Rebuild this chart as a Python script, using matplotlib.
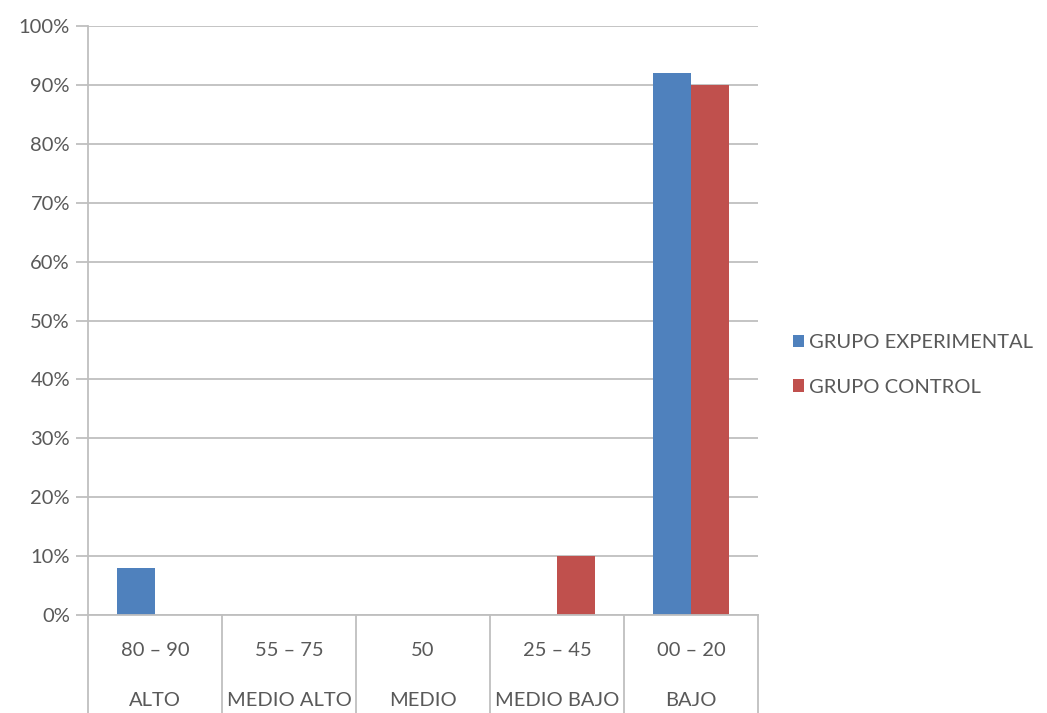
import matplotlib.pyplot as plt
import numpy as np
from matplotlib.patches import Patch
from matplotlib.ticker import FuncFormatter

plt.rcParams['font.family'] = ['Lato', 'DejaVu Sans']

rangos = ["80 – 90", "55 – 75", "50", "25 – 45", "00 – 20"]
niveles = ["ALTO", "MEDIO ALTO", "MEDIO", "MEDIO BAJO", "BAJO"]
experimental = [8, 0, 0, 0, 92]
control = [0, 0, 0, 10, 90]
series = ["GRUPO EXPERIMENTAL", "GRUPO CONTROL"]
colores = ["#4F81BD", "#C0504D"]
texto = "#595959"
linea = "#BFBFBF"
fs = 14.5

fig = plt.figure(figsize=(10.47, 7.13), dpi=100)
ax = fig.add_axes([0.084, 0.1374, 0.640, 0.8261])

x = np.arange(len(rangos))
w = 0.285
ax.bar(x - w / 2, experimental, w, color=colores[0], zorder=3)
ax.bar(x + w / 2, control, w, color=colores[1], zorder=3)

ax.set_xlim(-0.5, len(rangos) - 0.5)
ax.set_ylim(0, 100)
ax.set_yticks(np.arange(0, 101, 10))
ax.yaxis.set_major_formatter(FuncFormatter(lambda v, _: f"{int(v)}%"))
ax.grid(axis='y', color=linea, linewidth=1.3, zorder=0)
ax.set_xticks([])
ax.tick_params(axis='y', length=9, width=1.3, color=linea, labelcolor=texto,
               labelsize=fs, pad=4)
for s in ['top', 'right', 'bottom']:
    ax.spines[s].set_visible(False)
ax.spines['left'].set_color(linea)
ax.spines['left'].set_linewidth(1.3)

# category table below the axis
tr = ax.get_xaxis_transform()
for b in np.arange(-0.5, len(rangos), 1.0):
    ax.plot([b, b], [0, -0.17], transform=tr, color=linea, lw=1.3, clip_on=False)
ax.plot([-0.5, len(rangos) - 0.5], [0, 0], transform=tr, color=linea, lw=1.3,
        clip_on=False, zorder=4)
for i, (r, n) in enumerate(zip(rangos, niveles)):
    ax.text(i, -0.0594, r, transform=tr, ha='center', va='center',
            color=texto, fontsize=fs)
    ax.text(i, -0.1443, n, transform=tr, ha='center', va='center',
            color=texto, fontsize=fs)

handles = [Patch(facecolor=c, edgecolor='none') for c in colores]
fig.legend(handles, series, loc='center left', bbox_to_anchor=(0.740, 0.488),
           frameon=False, fontsize=fs, labelcolor=texto, handlelength=0.55,
           handleheight=0.55, handletextpad=0.25, labelspacing=1.35)

fig.savefig("out.png", dpi=100)
